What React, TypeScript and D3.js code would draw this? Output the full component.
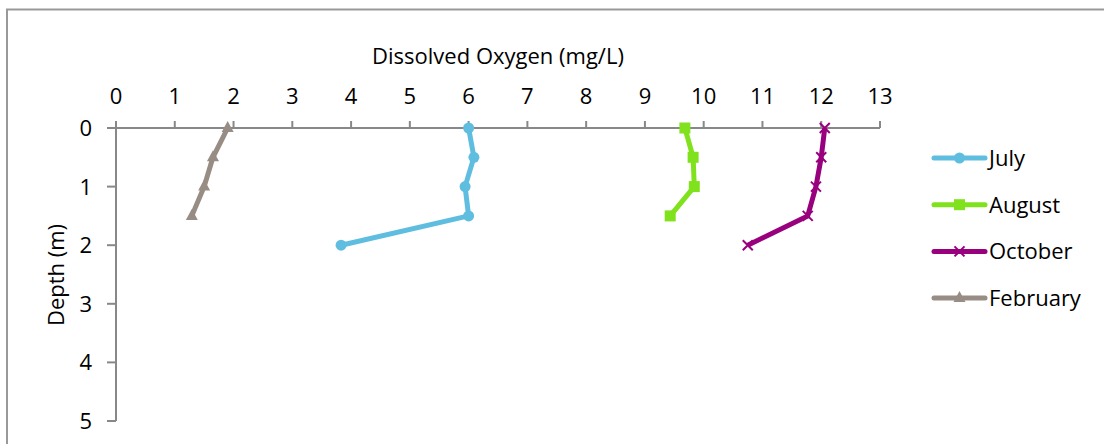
import React from "react";
import * as d3 from "d3";

const depths = [0, 0.5, 1, 1.5, 2];
const julyDO = [6.0, 6.09, 5.94, 6.0, 3.83];
const augustDO = [9.68, 9.82, 9.84, 9.43];
const octoberDO = [12.06, 12.0, 11.91, 11.77, 10.75];
const februaryDO = [1.9, 1.65, 1.5, 1.29];
const xTicks = d3.range(0, 14);
const yTicks = [0, 1, 2, 3, 4, 5];

const seriesList = [
  { name: "July", values: julyDO, color: "#5FBEE0", marker: "circle" },
  { name: "August", values: augustDO, color: "#80E21C", marker: "square" },
  { name: "October", values: octoberDO, color: "#98007E", marker: "x" },
  { name: "February", values: februaryDO, color: "#978D84", marker: "triangle" },
];

const FONT = "'Open Sans', sans-serif";

function Marker({ type, x, y, color }: { type: string; x: number; y: number; color: string }) {
  if (type === "circle") return <circle cx={x} cy={y} r={5.5} fill={color} />;
  if (type === "square") return <rect x={x - 5.5} y={y - 5.5} width={11} height={11} fill={color} />;
  if (type === "x")
    return (
      <path d={`M${x - 5},${y - 5}L${x + 5},${y + 5}M${x - 5},${y + 5}L${x + 5},${y - 5}`} stroke={color} strokeWidth={2} />
    );
  return <path d={`M${x},${y - 7}L${x + 6},${y + 4}L${x - 6},${y + 4}Z`} fill={color} />;
}

export default function App() {
  const W = 1104, H = 444;
  const x = d3.scaleLinear().domain([0, 13]).range([116, 880]);
  const y = d3.scaleLinear().domain([0, 5]).range([128, 421]);
  const line = d3.line<[number, number]>().x((d) => x(d[0])).y((d) => y(d[1]));
  const axisColor = "#888";
  return (
    <svg width={W} height={H} style={{ position: "absolute", left: 0, top: 0 }}>
      <rect x={0} y={0} width={W} height={H} fill="#fff" />
      <rect x={7} y={9.5} width={W + 10} height={H + 10} fill="none" stroke="#999" strokeWidth={2} />
      {/* x axis */}
      <line x1={107} x2={x(13)} y1={y(0)} y2={y(0)} stroke={axisColor} strokeWidth={2} />
      {xTicks.map((t) => (
        <g key={"xt" + t}>
          <line x1={x(t)} x2={x(t)} y1={y(0)} y2={y(0) - 7} stroke={axisColor} strokeWidth={2} />
          <text x={x(t)} y={104} textAnchor="middle" fontFamily={FONT} fontSize={22} fill="#000">
            {t}
          </text>
        </g>
      ))}
      {/* y axis */}
      <line x1={x(0)} x2={x(0)} y1={y(0)} y2={y(5)} stroke={axisColor} strokeWidth={2} />
      {yTicks.map((t) => (
        <g key={"yt" + t}>
          <line x1={x(0) - 9} x2={x(0)} y1={y(t)} y2={y(t)} stroke={axisColor} strokeWidth={2} />
          <text x={92} y={y(t) + 8} textAnchor="end" fontFamily={FONT} fontSize={22} fill="#000">
            {t}
          </text>
        </g>
      ))}
      <text x={498} y={64} textAnchor="middle" fontFamily={FONT} fontSize={22} fill="#000">
        Dissolved Oxygen (mg/L)
      </text>
      <text transform={`translate(64,275) rotate(-90)`} textAnchor="middle" fontFamily={FONT} fontSize={22} fill="#000">
        Depth (m)
      </text>
      {seriesList.map((s) => {
        const pts = s.values.map((v, i) => [v, depths[i]] as [number, number]);
        return (
          <g key={s.name}>
            <path d={line(pts) || ""} fill="none" stroke={s.color} strokeWidth={5} strokeLinejoin="round" />
            {pts.map((p, i) => (
              <Marker key={i} type={s.marker} x={x(p[0])} y={y(p[1])} color={s.color} />
            ))}
          </g>
        );
      })}
      {seriesList.map((s, i) => {
        const ly = 158 + i * 46.7;
        return (
          <g key={"lg" + s.name}>
            <line x1={934} x2={985} y1={ly} y2={ly} stroke={s.color} strokeWidth={5} strokeLinecap="round" />
            <Marker type={s.marker} x={959.5} y={ly} color={s.color} />
            <text x={989} y={ly + 8} fontFamily={FONT} fontSize={22} fill="#000">
              {s.name}
            </text>
          </g>
        );
      })}
    </svg>
  );
}
